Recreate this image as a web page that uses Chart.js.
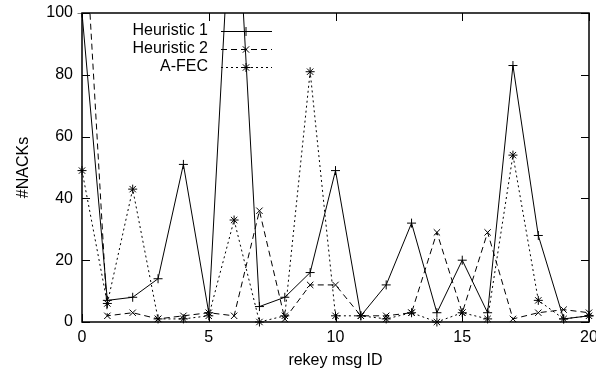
<!DOCTYPE html>
<html>
<head>
<meta charset="utf-8">
<script src="https://cdn.jsdelivr.net/npm/chart.js@4.4.1/dist/chart.umd.min.js"></script>
<style>
html,body{margin:0;padding:0;background:#fff;}
#wrap{width:596px;height:382px;position:relative;}
</style>
</head>
<body>
<div id="wrap"><canvas id="c"></canvas></div>
<script>
const msgIds = [0,1,2,3,4,5,6,7,8,9,10,11,12,13,14,15,16,17,18,19,20];
const heuristic1 = [100,7,8,14,51,3,155,5,8,16,49,2,12,32,3,20,3,83,28,1,2];
const heuristic2 = [145,2,3,1,2,3,2,36,1,12,12,2,2,3,29,3,29,1,3,4,3];
const afec = [49,6,43,1,1,2,33,0,2,81,2,2,1,3,0,3,1,54,7,1,2];
const seriesNames = ["Heuristic 1","Heuristic 2","A-FEC"];
const xTicks = [0,5,10,15,20];
const yTicks = [0,20,40,60,80,100];

const FONT = "'Liberation Sans', Arial, Helvetica, sans-serif";

function pts(arr){ return msgIds.map((x,i)=>({x:x,y:arr[i]})); }

const clipOpt = {left:6, right:6, top:0, bottom:6};

const boxTicks = {
  id:'boxTicks',
  afterDatasetsDraw(chart){
    const ctx = chart.ctx, a = chart.chartArea;
    const xs = chart.scales.x, ys = chart.scales.y;
    ctx.save();
    ctx.strokeStyle = '#000';
    ctx.lineWidth = 1;
    const L = 8;
    ctx.beginPath();
    xTicks.forEach(v=>{
      const px = Math.round(xs.getPixelForValue(v))+0.5;
      ctx.moveTo(px, a.bottom); ctx.lineTo(px, a.bottom-L);
      ctx.moveTo(px, a.top); ctx.lineTo(px, a.top+L);
    });
    yTicks.forEach(v=>{
      const py = Math.round(ys.getPixelForValue(v))+0.5;
      ctx.moveTo(a.left, py); ctx.lineTo(a.left+L, py);
      ctx.moveTo(a.right, py); ctx.lineTo(a.right-L, py);
    });
    ctx.stroke();
    ctx.lineWidth = 1.5;
    ctx.strokeRect(a.left, a.top, a.right-a.left, a.bottom-a.top);
    // legend
    ctx.font = '16px ' + FONT;
    ctx.fillStyle = '#000';
    ctx.textAlign = 'right';
    ctx.textBaseline = 'middle';
    chart.data.datasets.forEach((ds,i)=>{
      const y = a.top + 18 + i*18;
      ctx.fillText(ds.label, a.left + 126, y);
      ctx.save();
      ctx.lineWidth = 1;
      ctx.strokeStyle = '#000';
      ctx.setLineDash(ds.borderDash || []);
      ctx.beginPath();
      ctx.moveTo(a.left+139, y+0.5); ctx.lineTo(a.left+190, y+0.5);
      ctx.stroke();
      ctx.setLineDash([]);
      Chart.helpers.drawPoint(ctx, {pointStyle: ds.pointStyle, radius: 4.5, borderWidth: 1}, a.left+164, y+0.5);
      ctx.restore();
    });
    ctx.restore();
  }
};

new Chart(document.getElementById('c'), {
  type:'line',
  data:{
    datasets:[
      {label:seriesNames[0], data:pts(heuristic1), borderColor:'#000', backgroundColor:'#000', borderWidth:1, pointStyle:'cross', pointRadius:4.5, pointBorderWidth:1, borderDash:[], clip:clipOpt},
      {label:seriesNames[1], data:pts(heuristic2), borderColor:'#000', backgroundColor:'#000', borderWidth:1, pointStyle:'crossRot', pointRadius:4.5, pointBorderWidth:1, borderDash:[6,4], clip:clipOpt},
      {label:seriesNames[2], data:pts(afec), borderColor:'#000', backgroundColor:'#000', borderWidth:1, pointStyle:'star', pointRadius:4.5, pointBorderWidth:1, borderDash:[2,3], clip:clipOpt}
    ]
  },
  options:{
    responsive:true,
    maintainAspectRatio:false,
    animation:false,
    devicePixelRatio:1,
    layout:{padding:{top:13,right:7,left:0,bottom:0}},
    plugins:{legend:{display:false}, tooltip:{enabled:false}},
    elements:{line:{tension:0}},
    scales:{
      x:{
        type:'linear', min:0, max:20,
        afterBuildTicks(s){ s.ticks = xTicks.map(v=>({value:v})); },
        afterFit(s){ s.height = 60; s.paddingRight = 0; s.paddingLeft = 0; },
        ticks:{color:'#000', font:{family:FONT, size:16}, padding:6, maxRotation:0},
        grid:{display:false, drawTicks:false},
        border:{display:false},
        title:{display:true, text:'rekey msg ID', color:'#000', font:{family:FONT, size:16}, padding:{top:0,bottom:12}}
      },
      y:{
        min:0, max:100,
        afterBuildTicks(s){ s.ticks = yTicks.map(v=>({value:v})); },
        afterFit(s){ s.width = 82; s.paddingTop = 0; s.paddingBottom = 0; },
        ticks:{color:'#000', font:{family:FONT, size:16}, padding:9},
        grid:{display:false, drawTicks:false},
        border:{display:false},
        title:{display:true, text:'#NACKs', color:'#000', font:{family:FONT, size:16}, padding:{top:14,bottom:0}}
      }
    }
  },
  plugins:[boxTicks]
});
</script>
</body>
</html>
